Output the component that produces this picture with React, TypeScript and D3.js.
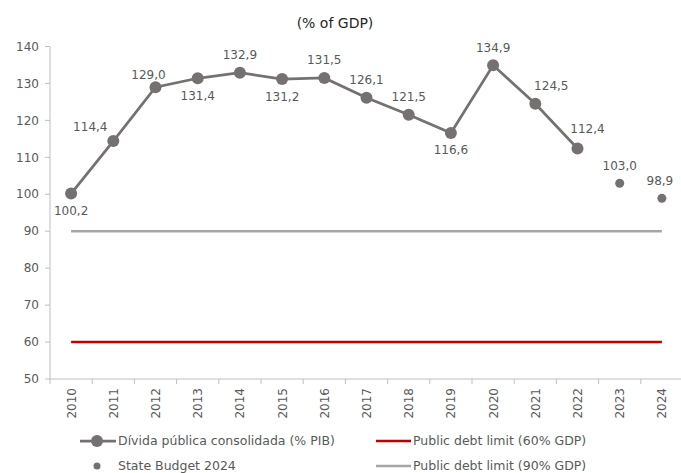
import React from "react";
import * as d3 from "d3";

const years = ["2010","2011","2012","2013","2014","2015","2016","2017","2018","2019","2020","2021","2022","2023","2024"];
const debtYears = ["2010","2011","2012","2013","2014","2015","2016","2017","2018","2019","2020","2021","2022"];
const debtValues = [100.2,114.4,129.0,131.4,132.9,131.2,131.5,126.1,121.5,116.6,134.9,124.5,112.4];
const budgetYears = ["2023","2024"];
const budgetValues = [103.0,98.9];
const labelPlacement = ["below","farLeft","nearLeft","below","above","below","above","above","above","below","above","right","nearRight"];
const yTicks = [50,60,70,80,90,100,110,120,130,140];
const limit60 = 60;
const limit90 = 90;

const W = 681, H = 473;
const FONT = "'DejaVu Sans', Verdana, sans-serif";
const TXT = "#595959";
const SERIES = "#767171";

const offsets: Record<string, [number, number]> = {
  below: [0, 21.5],
  above: [0, -13.5],
  farLeft: [-23, -10.5],
  nearLeft: [-7, -8.5],
  right: [16, -13.5],
  nearRight: [10, -15.5],
};

export default function App() {
  const x = d3.scaleBand<string>().domain(years).range([50, 683]).paddingInner(0).paddingOuter(0);
  const y = d3.scaleLinear().domain([50, 140]).range([379, 46.5]);
  const cx = (yr: string) => (x(yr) as number) + x.bandwidth() / 2;
  const line = d3.line<number>().x((_, i) => cx(debtYears[i])).y(d => y(d));
  const fmt = (v: number) => v.toFixed(1).replace(".", ",");
  const x0 = cx(years[0]);
  const x1 = cx(years[years.length - 1]);

  return (
    <div style={{ position: "fixed", left: 0, top: 0 }}>
      <svg width={W} height={H} style={{ display: "block", background: "#fff" }} fontFamily={FONT}>
        <text x={335} y={28} textAnchor="middle" fontSize={14} fill="#262626">(% of GDP)</text>
        {/* y axis */}
        <line x1={50} x2={50} y1={y(140)} y2={y(50)} stroke="#bfbfbf" strokeWidth={1} />
        {yTicks.map(t => (
          <g key={t}>
            <line x1={45} x2={50} y1={y(t)} y2={y(t)} stroke="#bfbfbf" />
            <text x={39} y={y(t)} dy="0.35em" textAnchor="end" fontSize={12} fill={TXT}>{t}</text>
          </g>
        ))}
        {/* x axis */}
        <line x1={50} x2={683} y1={y(50)} y2={y(50)} stroke="#bfbfbf" />
        {years.map((yr, i) => (
          <line key={"t" + yr} x1={50 + i * x.step()} x2={50 + i * x.step()} y1={y(50)} y2={y(50) + 5} stroke="#bfbfbf" />
        ))}
        {years.map(yr => (
          <text key={yr} transform={`translate(${cx(yr) + 4.5},${y(50) + 9}) rotate(-90)`} textAnchor="end" fontSize={12} fill={TXT}>{yr}</text>
        ))}
        {/* limit lines */}
        <line x1={x0} x2={x1} y1={y(limit90)} y2={y(limit90)} stroke="#a6a6a6" strokeWidth={2.5} />
        <line x1={x0} x2={x1} y1={y(limit60)} y2={y(limit60)} stroke="#c00000" strokeWidth={2.5} />
        {/* series */}
        <path d={line(debtValues) || ""} fill="none" stroke={SERIES} strokeWidth={2.75} />
        {debtValues.map((v, i) => (
          <circle key={"c" + i} cx={cx(debtYears[i])} cy={y(v)} r={6} fill={SERIES} />
        ))}
        {budgetValues.map((v, i) => (
          <circle key={"b" + i} cx={cx(budgetYears[i])} cy={y(v)} r={4.5} fill={SERIES} />
        ))}
        {debtValues.map((v, i) => {
          const [ox, oy] = offsets[labelPlacement[i]];
          return <text key={"l" + i} x={cx(debtYears[i]) + ox} y={y(v) + oy} textAnchor="middle" fontSize={12} fill={TXT}>{fmt(v)}</text>;
        })}
        {budgetValues.map((v, i) => (
          <text key={"bl" + i} x={cx(budgetYears[i]) + (i === 1 ? -2 : 0)} y={y(v) - 13.5} textAnchor="middle" fontSize={12} fill={TXT}>{fmt(v)}</text>
        ))}
        {/* legend */}
        <g fontSize={12.5} fill={TXT}>
          <line x1={80} x2={116} y1={441} y2={441} stroke={SERIES} strokeWidth={2.75} />
          <circle cx={97} cy={441} r={6} fill={SERIES} />
          <text x={118} y={441} dy="0.35em">Dívida pública consolidada (% PIB)</text>
          <circle cx={97} cy={466} r={3.5} fill={SERIES} />
          <text x={118} y={466} dy="0.35em">State Budget 2024</text>
          <line x1={376} x2={411} y1={441} y2={441} stroke="#c00000" strokeWidth={2.5} />
          <text x={413} y={441} dy="0.35em">Public debt limit (60% GDP)</text>
          <line x1={376} x2={411} y1={466} y2={466} stroke="#a6a6a6" strokeWidth={2.5} />
          <text x={413} y={466} dy="0.35em">Public debt limit (90% GDP)</text>
        </g>
      </svg>
    </div>
  );
}
